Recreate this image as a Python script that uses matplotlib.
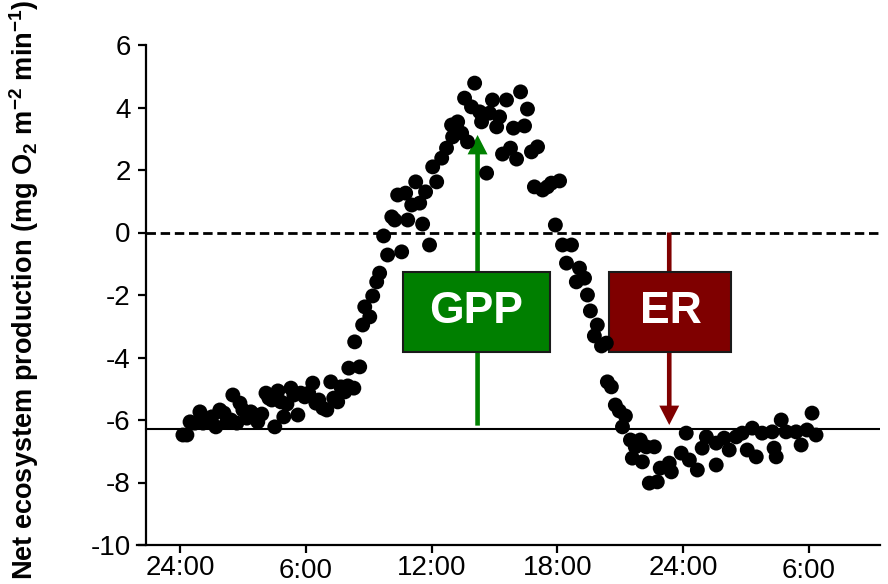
import matplotlib
matplotlib.use("Agg")
import matplotlib.pyplot as plt
from matplotlib.patches import Rectangle, FancyArrow

plt.rcParams['font.family'] = ['Liberation Sans', 'DejaVu Sans']
plt.rcParams['mathtext.default'] = 'regular'

# Time (hours since first midnight) and net ecosystem production values
hours = [0.14, 0.33, 0.48, 0.71, 0.95, 1.10, 1.33, 1.52, 1.71, 1.90, 2.10, 2.24, 2.43, 2.52,
         2.71, 2.86, 3.00, 3.19, 3.38, 3.57, 3.71, 3.90, 4.10, 4.24, 4.38, 4.52, 4.67, 4.81,
         4.95, 5.10, 5.29, 5.43, 5.62, 5.76, 5.95, 6.14, 6.33, 6.48, 6.62, 6.81, 7.00, 7.19,
         7.33, 7.52, 7.67, 7.86, 8.00, 8.05, 8.29, 8.57,
         8.33, 8.71, 9.05, 8.81, 9.19, 9.38, 9.52, 9.90, 9.71, 10.10, 10.24, 10.38, 10.57,
         10.76, 10.86, 11.05, 11.24, 11.43, 11.57, 11.71, 11.90, 12.05, 12.24, 12.48, 12.71,
         12.95, 13.00, 13.24, 13.43, 13.57, 13.71, 13.90, 14.05, 14.29, 14.38, 14.62, 14.76,
         14.90, 15.10, 15.24, 15.38, 15.57, 15.76, 15.90, 16.05, 16.24, 16.43, 16.57, 16.76,
         17.05, 16.90, 17.29, 17.52, 17.71, 18.10, 17.90, 18.24, 18.67, 18.43, 19.05, 18.90,
         19.29, 19.43, 19.57, 19.90, 19.76, 20.10, 20.33, 20.38, 20.57, 20.76, 20.95, 21.24,
         21.10, 21.48, 21.95, 21.71, 22.24, 22.62, 21.57, 22.05, 22.38, 22.76, 22.90, 23.33,
         23.43, 23.90, 24.14, 24.29, 24.67, 24.90, 25.10, 25.57, 25.57, 25.95, 26.19, 26.52,
         26.81, 27.05, 27.29, 27.48, 27.76, 28.24, 28.33, 28.43, 28.67, 28.90, 29.38, 29.62,
         29.90, 30.14, 30.33]
nep = [-6.48, -6.48, -6.06, -6.10, -5.74, -6.10, -6.03, -5.90, -6.22, -5.68, -5.78, -6.06,
       -6.00, -5.20, -6.10, -5.46, -5.68, -5.94, -5.74, -5.84, -6.06, -5.81, -5.14, -5.30,
       -5.36, -6.22, -5.07, -5.42, -5.90, -5.49, -4.98, -5.20, -5.84, -5.14, -5.26, -5.14,
       -4.82, -5.46, -5.36, -5.62, -5.68, -4.78, -5.30, -5.42, -4.94, -5.10, -4.91, -4.34,
       -4.98, -4.30,
       -3.50, -2.96, -2.70, -2.38, -2.03, -1.58, -1.30, -0.72, -0.11, 0.50, 0.40, 1.20, -0.62,
       1.26, 0.40, 0.88, 1.62, 0.94, 0.27, 1.30, -0.40, 2.10, 1.62, 2.38, 2.70,
       3.44, 3.06, 3.54, 3.18, 4.30, 2.90, 4.02, 4.78, 3.86, 3.54, 1.90, 3.82,
       4.24, 3.38, 3.70, 2.51, 4.24, 2.70, 3.34, 2.35, 4.50, 3.41, 3.95, 2.58,
       2.74, 1.46, 1.36, 1.46, 1.58, 1.65, 0.24, -0.40, -0.40, -0.98, -1.14, -1.58,
       -1.46, -2.00, -2.51, -2.96, -3.31, -3.63, -3.54, -4.78, -4.94, -5.52, -5.71, -5.87,
       -6.22, -6.64, -6.64, -6.86, -6.86, -6.86, -7.22, -7.34, -8.02, -7.98, -7.54, -7.38,
       -7.66, -7.06, -6.42, -7.28, -7.60, -6.90, -6.54, -7.44, -6.74, -6.58, -6.96, -6.54,
       -6.42, -6.96, -6.26, -7.18, -6.42, -6.38, -6.90, -7.18, -6.00, -6.38, -6.38, -6.80,
       -6.32, -5.78, -6.48]

tick_hours = [0, 6, 12, 18, 24, 30]
tick_labels = ['24:00', '6:00', '12:00', '18:00', '24:00', '6:00']
y_ticks = [-10, -8, -6, -4, -2, 0, 2, 4, 6]
baseline_nep = -6.29

gpp_box = (10.62, -3.82, 7.02, 2.56)   # x, y, width, height
er_box = (20.48, -3.82, 5.81, 2.56)
gpp_arrow_x, gpp_arrow_from, gpp_arrow_to = 14.19, -6.18, 3.12
er_arrow_x, er_arrow_from, er_arrow_to = 23.33, 0.0, -6.16

fig = plt.figure(figsize=(8.88, 5.84), dpi=100)
ax = fig.add_axes([137 / 888, 39 / 584, 743 / 888, 500 / 584])
ax.set_xlim(-2.05, 33.38)
ax.set_ylim(-10, 6)

for s in ['top', 'right']:
    ax.spines[s].set_visible(False)
ax.spines['left'].set_position(('data', -1.62))
for s in ['left', 'bottom']:
    ax.spines[s].set_linewidth(1.6)

ax.set_xticks(tick_hours)
ax.set_xticklabels(tick_labels)
ax.set_yticks(y_ticks)
ax.set_yticklabels([str(v) for v in y_ticks])
ax.tick_params(axis='both', direction='out', length=6, width=1.6, labelsize=20)
ax.tick_params(axis='x', pad=1)
ax.tick_params(axis='y', pad=5)
for i, t in enumerate(ax.xaxis.get_major_ticks()):
    if tick_labels[i] == '6:00':
        t.set_pad(3)

xmin_frac = (-1.62 + 2.05) / (33.38 + 2.05)
ax.axhline(0, color='black', lw=2, linestyle=(0, (3.4, 1.7)), xmin=xmin_frac, zorder=1)
ax.axhline(baseline_nep, color='black', lw=1.5, xmin=xmin_frac, zorder=1)

# arrows (behind boxes)
ax.add_patch(FancyArrow(gpp_arrow_x, gpp_arrow_from, 0, gpp_arrow_to - gpp_arrow_from,
                        width=0.22, head_width=0.95, head_length=0.62,
                        length_includes_head=True, color='#008000', lw=0, zorder=2))
ax.add_patch(FancyArrow(er_arrow_x, er_arrow_from, 0, er_arrow_to - er_arrow_from,
                        width=0.22, head_width=0.95, head_length=0.62,
                        length_includes_head=True, color='#800000', lw=0, zorder=2))

ax.add_patch(Rectangle(gpp_box[:2], gpp_box[2], gpp_box[3], facecolor='#007f00',
                       edgecolor='#1a1a1a', lw=1.5, zorder=3))
ax.add_patch(Rectangle(er_box[:2], er_box[2], er_box[3], facecolor='#7f0000',
                       edgecolor='#1a1a1a', lw=1.5, zorder=3))
ax.text(gpp_box[0] + gpp_box[2] / 2, gpp_box[1] + gpp_box[3] / 2, 'GPP', color='white',
        fontsize=32, fontweight='bold', ha='center', va='center', zorder=4)
ax.text(er_box[0] + er_box[2] / 2, er_box[1] + er_box[3] / 2, 'ER', color='white',
        fontsize=32, fontweight='bold', ha='center', va='center', zorder=4)

ax.scatter(hours, nep, s=115, color='black', edgecolors='none', zorder=5, clip_on=False)

fig.text(24 / 888, 0.503, 'Net ecosystem production (mg O$_2$ m$^{-2}$ min$^{-1}$)',
         rotation=90, ha='center', va='center', fontsize=19.5, fontweight='bold')

fig.savefig('out.png', dpi=100)
